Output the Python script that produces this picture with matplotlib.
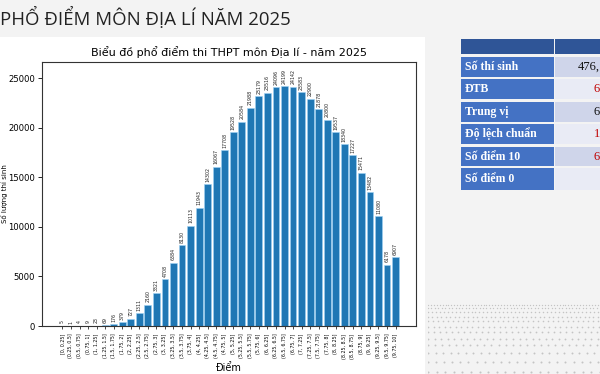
import matplotlib.pyplot as plt
from matplotlib.patches import Rectangle

# ---- data ----
bins = ["[0, 0.25]", "(0.25, 0.5]", "(0.5, 0.75]", "(0.75, 1]",
        "(1, 1.25]", "(1.25, 1.5]", "(1.5, 1.75]", "(1.75, 2]",
        "(2, 2.25]", "(2.25, 2.5]", "(2.5, 2.75]", "(2.75, 3]",
        "(3, 3.25]", "(3.25, 3.5]", "(3.5, 3.75]", "(3.75, 4]",
        "(4, 4.25]", "(4.25, 4.5]", "(4.5, 4.75]", "(4.75, 5]",
        "(5, 5.25]", "(5.25, 5.5]", "(5.5, 5.75]", "(5.75, 6]",
        "(6, 6.25]", "(6.25, 6.5]", "(6.5, 6.75]", "(6.75, 7]",
        "(7, 7.25]", "(7.25, 7.5]", "(7.5, 7.75]", "(7.75, 8]",
        "(8, 8.25]", "(8.25, 8.5]", "(8.5, 8.75]", "(8.75, 9]",
        "(9, 9.25]", "(9.25, 9.5]", "(9.5, 9.75]", "(9.75, 10]"]
counts = [5, 1, 4, 9, 23, 69, 176, 379, 727, 1311,
          2160, 3321, 4708, 6384, 8130, 10113, 11943, 14302, 16067, 17708,
          19528, 20584, 21988, 23179, 23516, 24096, 24199, 24142, 23583, 22900,
          21878, 20800, 19537, 18340, 17227, 15471, 13482, 11080, 6178, 6907]

table_labels = ["Số thí sinh", "ĐTB", "Trung vị", "Độ lệch chuẩn", "Số điểm 10", "Số điểm 0"]
table_values = ["476,", "6", "6", "1", "6", ""]
table_red = [False, True, False, True, True, False]

fig = plt.figure(figsize=(6, 3.74), dpi=100)
fig.patch.set_facecolor("#f3f3f3")

# decorative dotted floor, bottom right of the slide
deco = fig.add_axes([428 / 600, 0, 172 / 600, 110 / 374])
deco.set_xlim(0, 1)
deco.set_ylim(0, 1)
deco.axis("off")
row_y = [0.02, 0.11, 0.19, 0.26, 0.32, 0.38, 0.43, 0.48, 0.52, 0.56, 0.60, 0.63]
for j, yy in enumerate(row_y):
    step = 0.05 - j * 0.003
    xs = [i * step for i in range(int(1 / step) + 1)]
    deco.scatter(xs, [yy] * len(xs), s=2.2 - j * 0.12, color="#c4c4c4", linewidths=0)

# white picture of the chart
fig.add_artist(Rectangle((0, 0), 425 / 600, 1 - 37 / 374, transform=fig.transFigure,
                         facecolor="white", edgecolor="none", zorder=0))

fig.text(0.0, 1 - 18 / 374, "PHỔ ĐIỂM MÔN ĐỊA LÍ NĂM 2025", fontsize=13.4,
         family="Open Sans", color="#222222", va="center", ha="left")

ax = fig.add_axes([42 / 600, 48 / 374, 374 / 600, 264 / 374])
x = list(range(len(counts)))
bars = ax.bar(x, counts, width=0.8, color="#1f77b4", edgecolor="#9fd3f5", linewidth=0.4)
for i, v in enumerate(counts):
    ax.text(i, v + 250, str(v), rotation=90, ha="center", va="bottom", fontsize=3.4,
            color="#222222")
ax.set_xticks(x)
ax.set_xticklabels(bins, rotation=90, fontsize=3.4)
ax.set_ylim(0, max(counts) * 1.1)
ax.tick_params(axis="y", labelsize=6.1, length=3, width=0.6, pad=2)
ax.tick_params(axis="x", length=2, width=0.5)
ax.set_title("Biểu đồ phổ điểm thi THPT môn Địa lí - năm 2025", fontsize=8, pad=4)
ax.set_xlabel("Điểm", fontsize=7, labelpad=3)
ax.set_ylabel("Số lượng thí sinh", fontsize=5)
ax.yaxis.set_label_coords(-0.0896, 0.5)
for s in ax.spines.values():
    s.set_linewidth(0.8)
    s.set_color("#333333")

# stats table on the right
col_l, col_m = 461, 555
rows = [(57, 77), (79, 99), (102, 122), (124, 144), (147, 166), (168, 190)]
fig.add_artist(Rectangle((col_l / 600, 1 - 54 / 374), (col_m - 1 - col_l) / 600, 15 / 374,
                         transform=fig.transFigure, facecolor="#2f5597", edgecolor="none"))
fig.add_artist(Rectangle((col_m / 600, 1 - 54 / 374), (600 - col_m) / 600, 15 / 374,
                         transform=fig.transFigure, facecolor="#2f5597", edgecolor="none"))
for k, (y0, y1) in enumerate(rows):
    fig.add_artist(Rectangle((col_l / 600, 1 - y1 / 374), (col_m - 1 - col_l) / 600,
                             (y1 - y0) / 374, transform=fig.transFigure,
                             facecolor="#4472c4", edgecolor="none"))
    fig.add_artist(Rectangle((col_m / 600, 1 - y1 / 374), (600 - col_m) / 600,
                             (y1 - y0) / 374, transform=fig.transFigure,
                             facecolor="#cfd5ea" if k % 2 == 0 else "#e9ebf5",
                             edgecolor="none"))
    yc = 1 - (y0 + y1) / 2 / 374
    fig.text((col_l + 4) / 600, yc, table_labels[k], fontsize=8.5, weight="bold",
             family="Liberation Serif", color="white", va="center", ha="left")
    fig.text(1.0, yc, table_values[k], fontsize=9, family="Liberation Serif",
             color="#c00000" if table_red[k] else "#111111", va="center", ha="right")

fig.savefig("out.png", dpi=100, facecolor=fig.get_facecolor())
